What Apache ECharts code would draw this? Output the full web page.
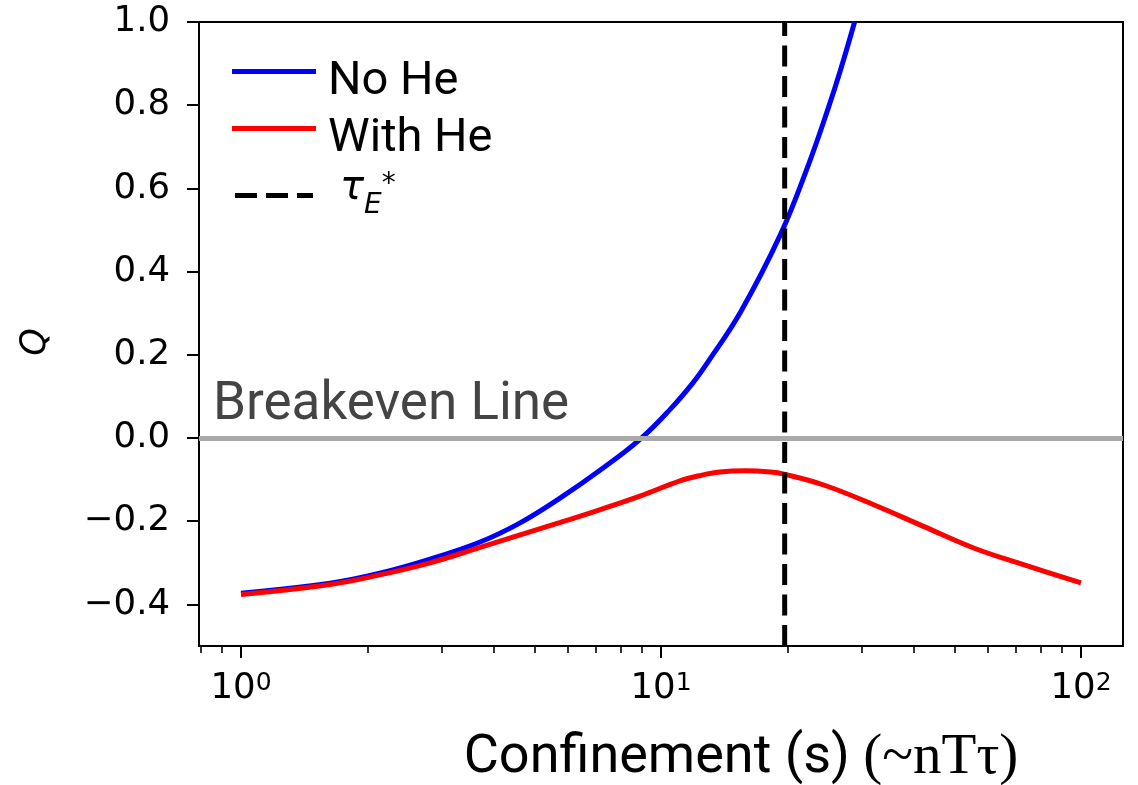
<!DOCTYPE html>
<html>
<head>
<meta charset="utf-8">
<script src="https://cdn.jsdelivr.net/npm/echarts@6/dist/echarts.min.js"></script>
<style>
html,body{margin:0;padding:0;background:#fff;}
#chart{width:1138px;height:785px;}
</style>
</head>
<body>
<div id="chart"></div>
<script>
// ---- data ----
const tauNoHe = [1.0, 1.63, 2.14, 2.82, 3.71, 4.62, 5.76, 7.17, 8.94, 10.54, 11.90, 12.88, 15.47, 19.27, 22.37, 24.96, 26.8, 28.9];
const qNoHe   = [-0.373, -0.349, -0.325, -0.291, -0.250, -0.204, -0.144, -0.077, -0.002, 0.070, 0.132, 0.180, 0.303, 0.490, 0.653, 0.790, 0.887, 1.0];
const tauWithHe = [1.0, 1.63, 2.14, 2.82, 3.71, 4.62, 5.76, 7.17, 8.94, 11.1, 12.42, 13.8, 15.9, 18.24, 19.62, 24.4, 32.2, 42.3, 55.7, 73.3, 100];
const qWithHe   = [-0.376, -0.352, -0.329, -0.300, -0.263, -0.233, -0.203, -0.172, -0.139, -0.103, -0.090, -0.082, -0.079, -0.082, -0.087, -0.113, -0.161, -0.213, -0.265, -0.305, -0.348];
const tauStar = 19.7;
const breakevenQ = 0;
const yTicks = [-0.4, -0.2, 0.0, 0.2, 0.4, 0.6, 0.8, 1.0];
const xMajorTicks = [1, 10, 100];
const xMinorTicks = [0.8, 0.9, 2, 3, 4, 5, 6, 7, 8, 9, 20, 30, 40, 50, 60, 70, 80, 90];
const xMin = Math.pow(10, -0.1), xMax = Math.pow(10, 2.1);
const yMin = -0.5, yMax = 1.0;

const pairs = (xs, ys) => xs.map((x, i) => [x, ys[i]]);

const chart = echarts.init(document.getElementById('chart'), null, {renderer: 'canvas'});
const TICK_FONT = 'DejaVu Sans';
const option = {
  animation: false,
  backgroundColor: '#fff',
  grid: {left: 199, right: 15, top: 22, bottom: 139, show: true, borderColor: '#000', borderWidth: 2, backgroundColor: 'transparent', outerBoundsMode: 'none', containLabel: false},
  legend: {
    data: [
      {name: 'No He', icon: 'rect'},
      {name: 'With He', icon: 'rect'},
      {name: 'tau', icon: 'path://M0,0H22V5H0Z M31,0H53V5H31Z M62,0H78V5H62Z'}
    ],
    orient: 'vertical', left: 232, top: 37, padding: 0,
    itemWidth: 84, itemHeight: 5, itemGap: -12,
    selectedMode: false,
    formatter: function (n) { return n === 'tau' ? '{t|τ}{s|E}{p|*}' : '{n|' + n + '}'; },
    textStyle: {
      fontFamily: 'Roboto', fontSize: 47, color: '#000',
      rich: {
        n: {fontFamily: 'Roboto', fontSize: 47, lineHeight: 48, padding: [22, 0, 0, 7], color: '#000'},
        t: {fontFamily: 'DejaVu Sans', fontStyle: 'italic', fontSize: 40, height: 75, lineHeight: 89, verticalAlign: 'middle', color: '#000', padding: [0, 0, 14, 19], backgroundColor: 'rgba(255,255,255,0)'},
        s: {fontFamily: 'DejaVu Sans', fontStyle: 'italic', fontSize: 28, verticalAlign: 'bottom', color: '#000', padding: [0, 0, 20, 0]},
        p: {fontFamily: 'DejaVu Sans', fontSize: 28, verticalAlign: 'top', color: '#000', padding: [20, 0, 0, 0]}
      }
    }
  },
  xAxis: [{
    type: 'log', logBase: 10, min: xMin, max: xMax, position: 'bottom',
    name: '{a|Confinement (s) }{b|(~nTτ)}', nameLocation: 'middle', nameGap: 84,
    nameTextStyle: {padding: [0, 0, 0, 160], rich: {
      a: {fontFamily: 'Roboto', fontSize: 54, color: '#000'},
      b: {fontFamily: 'Liberation Serif', fontSize: 57, color: '#000'}
    }},
    axisLine: {show: true, onZero: false, lineStyle: {color: '#000', width: 2}},
    axisTick: {show: true, length: 12, inside: false, lineStyle: {color: '#000', width: 2}, customValues: xMajorTicks},
    axisLabel: {show: true, margin: 25, customValues: xMajorTicks,
      formatter: function (v) { return '{b|10}{s|' + Math.round(Math.log10(v)) + '}'; },
      rich: {
        b: {fontFamily: TICK_FONT, fontSize: 35.5, lineHeight: 36, color: '#000', verticalAlign: 'middle'},
        s: {fontFamily: TICK_FONT, fontSize: 25, lineHeight: 19, color: '#000', verticalAlign: 'top'}
      }},
    splitLine: {show: false}, minorTick: {show: false}, minorSplitLine: {show: false}
  }, {
    type: 'log', logBase: 10, min: xMin, max: xMax, position: 'bottom',
    axisLine: {show: false, onZero: false},
    axisTick: {show: true, length: 7, lineStyle: {color: '#000', width: 1.6}, customValues: xMinorTicks},
    axisLabel: {show: false},
    splitLine: {show: false}
  }],
  yAxis: {
    type: 'value', min: yMin, max: yMax,
    name: 'Q', nameLocation: 'middle', nameGap: 146, nameRotate: 90,
    nameTextStyle: {fontFamily: TICK_FONT, fontStyle: 'italic', fontSize: 35, color: '#000', padding: [0, 16, 0, 0]},
    axisLine: {show: true, onZero: false, lineStyle: {color: '#000', width: 2}},
    axisTick: {show: true, length: 12, lineStyle: {color: '#000', width: 2}, customValues: yTicks},
    axisLabel: {show: true, margin: 29, customValues: yTicks, fontFamily: TICK_FONT, fontSize: 35.5, color: '#000',
      formatter: function (v) { return (v < -1e-9 ? '\u2212' : '') + Math.abs(v).toFixed(1); }},
    splitLine: {show: false}
  },
  series: [
    {
      name: 'breakeven', type: 'line', data: [], silent: true, z: 1,
      markLine: {
        silent: true, symbol: 'none', animation: false,
        lineStyle: {color: '#a9a9a9', width: 5, type: 'solid'},
        data: [{yAxis: breakevenQ}],
        label: {show: true, position: 'insideStartTop', distance: [14, 6], formatter: 'Breakeven Line',
          fontFamily: 'Roboto', fontSize: 53, color: '#444'},
        emphasis: {disabled: true}
      }
    },
    {
      name: 'No He', type: 'line', xAxisIndex: 0, data: pairs(tauNoHe, qNoHe),
      smooth: 0.4, showSymbol: false, symbol: 'none', clip: true, z: 3,
      lineStyle: {color: '#0000ff', width: 5}, itemStyle: {color: '#0000ff'}
    },
    {
      name: 'With He', type: 'line', xAxisIndex: 0, data: pairs(tauWithHe, qWithHe),
      smooth: 0.4, showSymbol: false, symbol: 'none', clip: true, z: 4,
      lineStyle: {color: '#ff0000', width: 5}, itemStyle: {color: '#ff0000'}
    },
    {
      name: 'tau', type: 'line', xAxisIndex: 0, data: [[tauStar, yMin], [tauStar, yMax]],
      showSymbol: false, symbol: 'none', z: 5,
      lineStyle: {color: '#000', width: 5, type: [21, 9.5]}, itemStyle: {color: '#000'}
    }
  ]
};
chart.setOption(option);
</script>
</body>
</html>
